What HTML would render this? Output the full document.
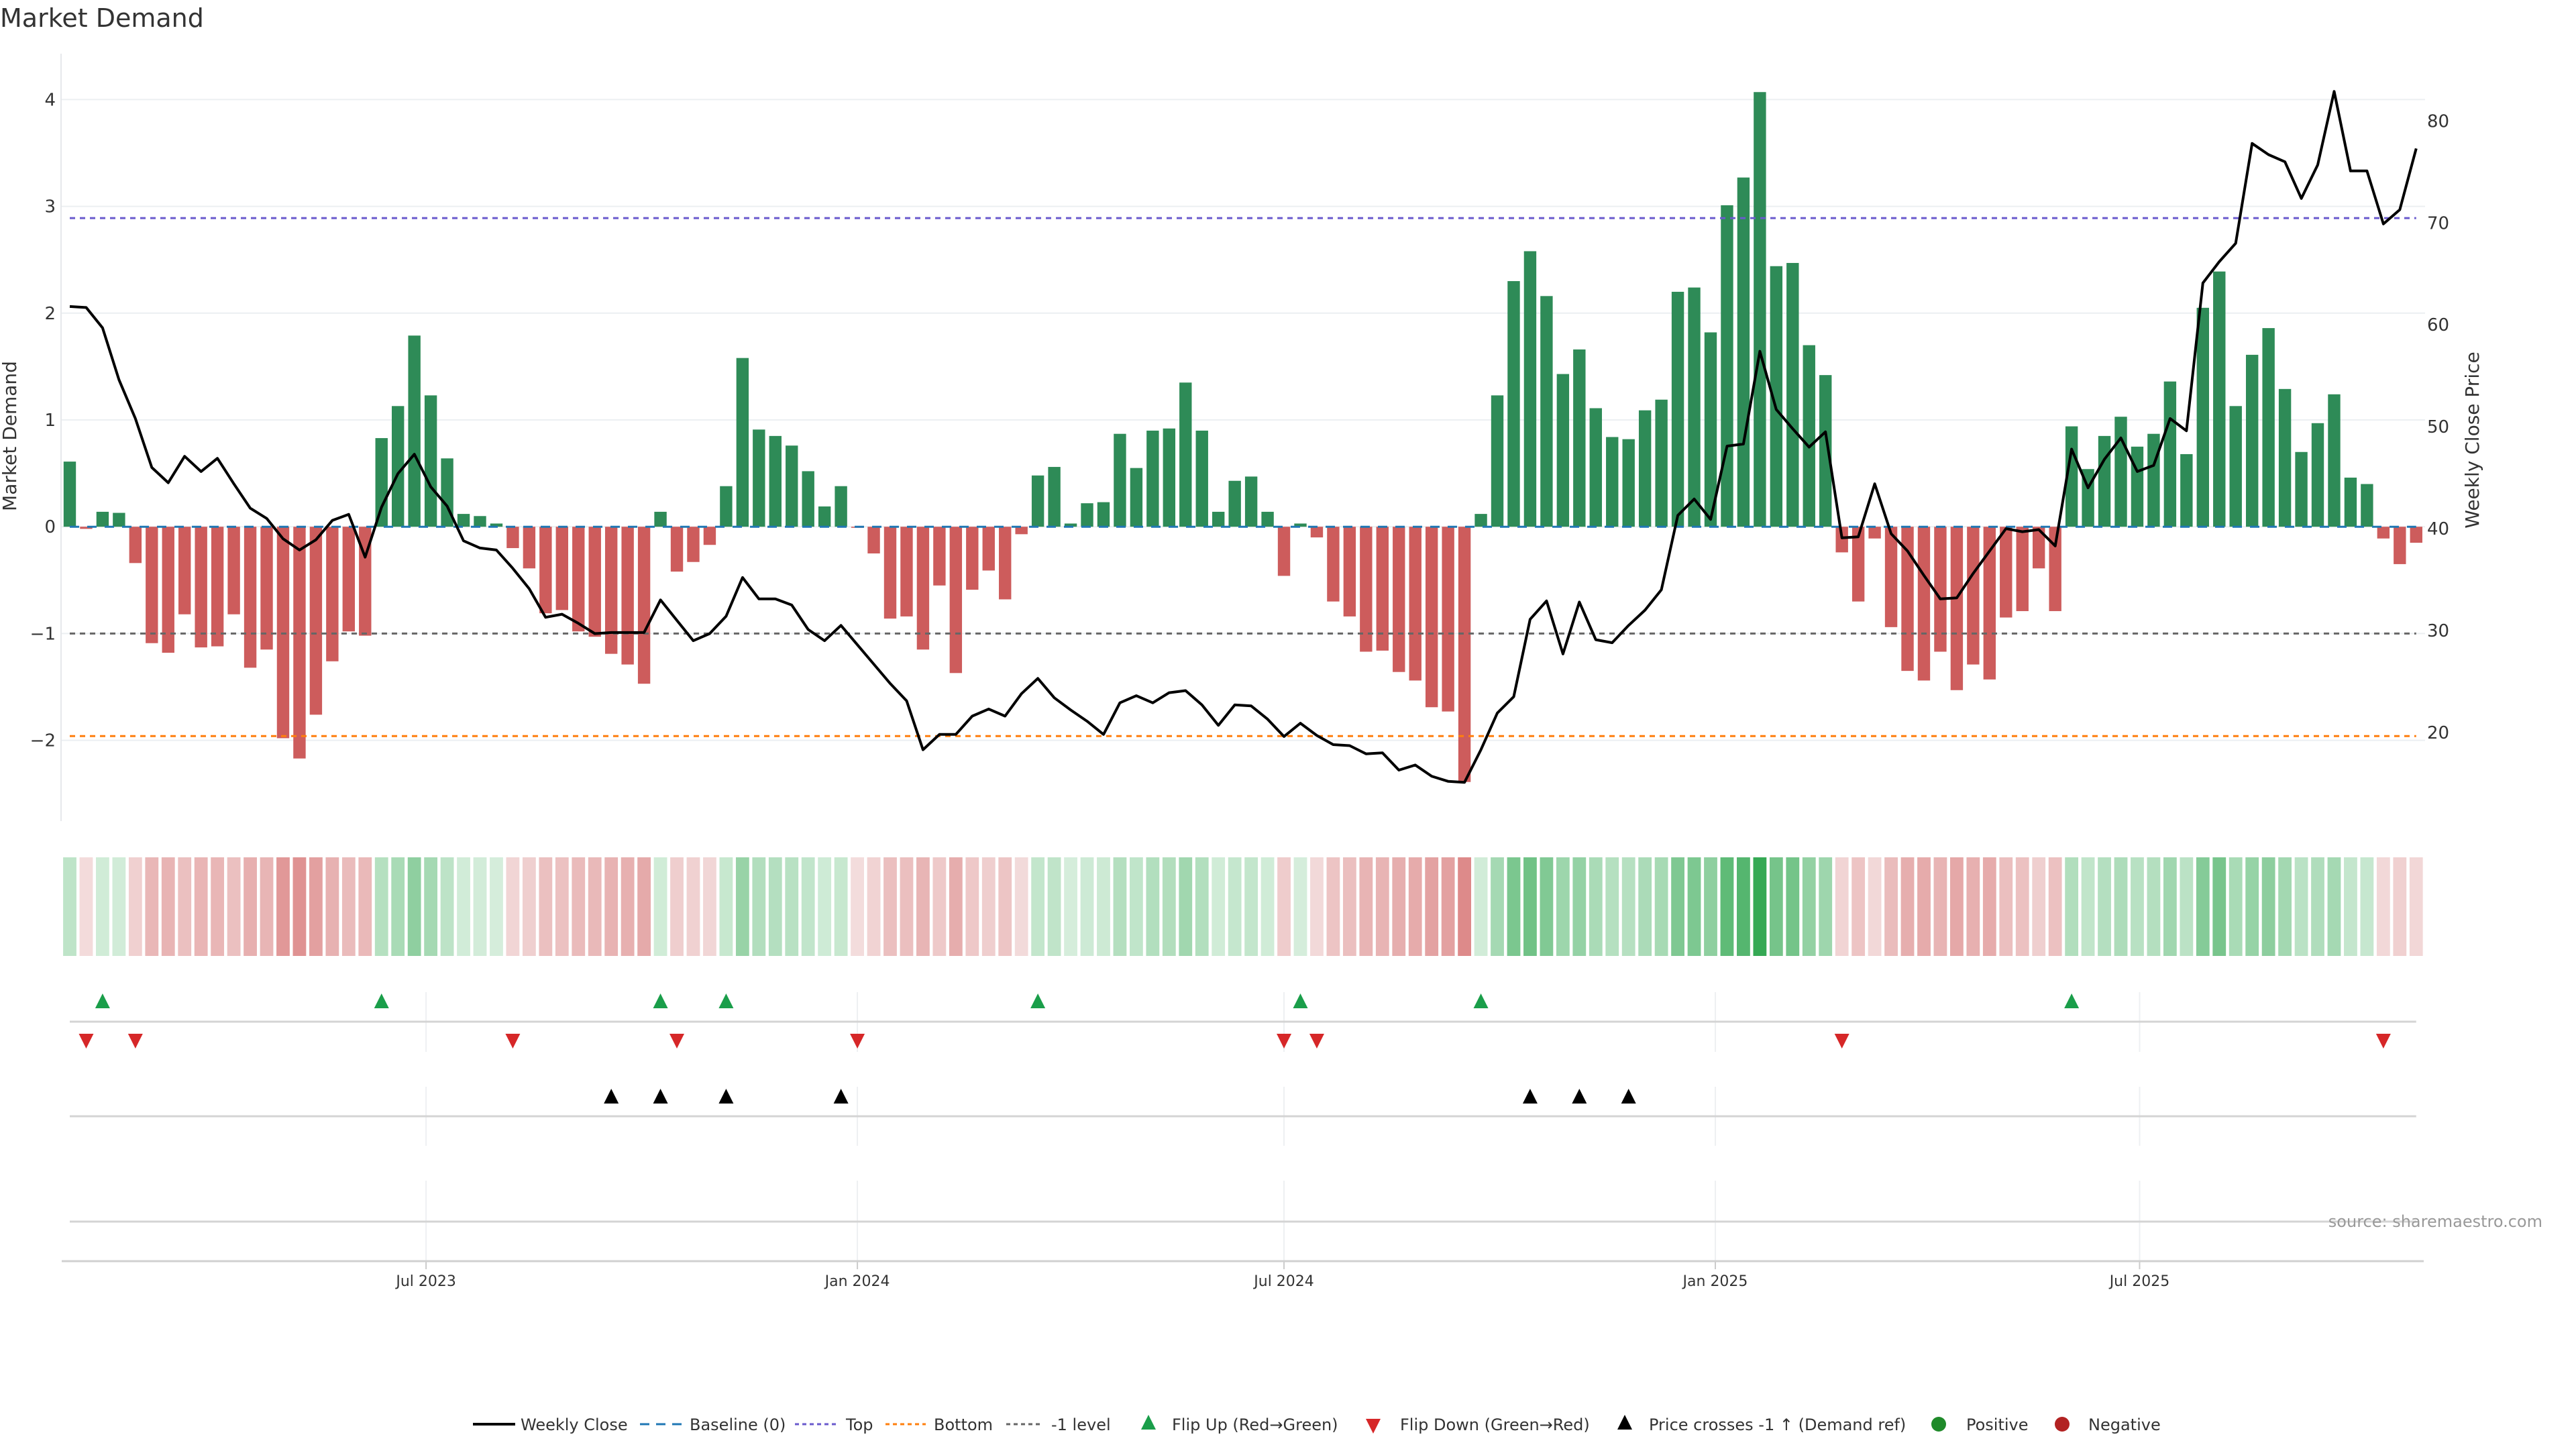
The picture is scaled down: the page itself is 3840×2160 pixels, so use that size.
<!DOCTYPE html>
<html><head><meta charset="utf-8"><title>Market Demand</title>
<style>
html,body{margin:0;padding:0;background:#fff;}
svg{display:block;font-family:"DejaVu Sans","Liberation Sans",sans-serif;}
</style></head>
<body>
<svg id="chart" xmlns="http://www.w3.org/2000/svg" width="3840" height="2160" viewBox="0 0 3840 2160">
<text x="0" y="40" font-size="38" fill="#333">Market Demand</text>
<g id="grid"></g>
<g id="refs"></g>
<g id="bars"></g>
<g id="priceg"></g>
<g id="heat"></g>
<g id="markers"></g>
<g id="axes"></g>
<g id="legend"></g>
<text x="3790" y="1829" font-size="24" fill="#999" text-anchor="end">source: sharemaestro.com</text>
</svg>
<script>
const demand = [0.61,-0.02,0.14,0.13,-0.34,-1.09,-1.18,-0.82,-1.13,-1.12,
-0.82,-1.32,-1.15,-1.98,-2.17,-1.76,-1.26,-0.98,-1.02,0.83,
1.13,1.79,1.23,0.64,0.12,0.10,0.03,-0.20,-0.39,-0.81,
-0.78,-0.98,-1.03,-1.19,-1.29,-1.47,0.14,-0.42,-0.33,-0.17,
0.38,1.58,0.91,0.85,0.76,0.52,0.19,0.38,-0.01,-0.25,
-0.86,-0.84,-1.15,-0.55,-1.37,-0.59,-0.41,-0.68,-0.07,0.48,
0.56,0.03,0.22,0.23,0.87,0.55,0.90,0.92,1.35,0.90,
0.14,0.43,0.47,0.14,-0.46,0.03,-0.10,-0.70,-0.84,-1.17,
-1.16,-1.36,-1.44,-1.69,-1.73,-2.39,0.12,1.23,2.30,2.58,
2.16,1.43,1.66,1.11,0.84,0.82,1.09,1.19,2.20,2.24,
1.82,3.01,3.27,4.07,2.44,2.47,1.70,1.42,-0.24,-0.70,
-0.11,-0.94,-1.35,-1.44,-1.17,-1.53,-1.29,-1.43,-0.85,-0.79,
-0.39,-0.79,0.94,0.54,0.85,1.03,0.75,0.87,1.36,0.68,
2.05,2.39,1.13,1.61,1.86,1.29,0.70,0.97,1.24,0.46,
0.40,-0.11,-0.35,-0.15];
const price = [61.8,61.7,59.7,54.6,50.8,46.0,44.5,47.1,45.6,46.9,
44.4,42.0,41.0,39.0,37.9,38.9,40.8,41.4,37.2,42.1,
45.4,47.3,44.1,42.2,38.8,38.1,37.9,36.1,34.1,31.3,
31.6,30.7,29.7,29.8,29.8,29.8,33.0,31.0,29.0,29.7,
31.4,35.2,33.1,33.1,32.5,30.1,29.0,30.5,28.6,26.7,
24.8,23.1,18.3,19.8,19.8,21.6,22.3,21.6,23.8,25.3,
23.4,22.2,21.1,19.8,22.9,23.6,22.9,23.9,24.1,22.7,
20.7,22.7,22.6,21.3,19.6,20.9,19.7,18.8,18.7,17.9,
18.0,16.3,16.8,15.7,15.2,15.1,18.3,21.9,23.5,31.1,
32.9,27.7,32.8,29.1,28.8,30.5,32.0,34.0,41.3,42.9,
40.9,48.1,48.3,57.4,51.7,49.8,48.0,49.5,39.1,39.2,
44.4,39.5,37.8,35.4,33.1,33.2,35.6,37.8,40.0,39.7,
39.9,38.3,47.8,44.0,46.8,48.9,45.6,46.2,50.8,49.6,
64.1,66.2,68.0,77.8,76.7,76.0,72.4,75.7,82.9,75.1,
75.1,69.9,71.3,77.3];
const flipUp = [2,19,36,40,59,75,86,122];
const flipDown = [1,4,27,37,48,74,76,108,141];
const priceCross = [33,36,40,47,89,92,95];
const demandTicks = [-2,-1,0,1,2,3,4];
const priceTicks = [20,30,40,50,60,70,80];
const refTop = 2.89, refMinus1 = -1, refBottom = -1.96;
const dateTicks = [["Jul 2023","2023-07-01"],["Jan 2024","2024-01-01"],["Jul 2024","2024-07-01"],["Jan 2025","2025-01-01"],["Jul 2025","2025-07-01"]];
const startDate = "2023-01-30";

const NS="http://www.w3.org/2000/svg";
const X0=104, STEP=24.46, BW=18.4;
function xAt(i){return X0+STEP*i;}
function yD(v){return 785.2-v*159.2;}
function yP(p){return 788-(p-40)*15.19;}
function xDate(s){const d=(new Date(s)-new Date(startDate))/86400000;return X0+STEP*d/7;}
function mk(tag,attrs,parent){const e=document.createElementNS(NS,tag);for(const k in attrs)e.setAttribute(k,attrs[k]);parent.appendChild(e);return e;}
const g=id=>document.getElementById(id);
const N=demand.length, XE=xAt(N-1);

demandTicks.forEach(t=>{
  const l=mk('line',{x1:91,x2:3615,y1:yD(t),y2:yD(t),stroke:'#eceff2','stroke-width':2},g('grid'));
  
  
  const tx=mk('text',{x:83,y:yD(t)+9,'font-size':26,fill:'#333','text-anchor':'end'},g('axes'));
  tx.textContent=(t<0?'\u2212':'')+Math.abs(t);
  
  
});
priceTicks.forEach(t=>{
  const tx=mk('text',{x:3618,y:yP(t)+9,'font-size':26,fill:'#333'},g('axes'));
  tx.textContent=t;
  
  
});
const sp=mk('line',{x1:91,x2:91,y1:80,y2:1224,stroke:'#e6e8eb','stroke-width':2},g('axes'));


let yl=mk('text',{x:0,y:0,'font-size':28,fill:'#333','text-anchor':'middle',transform:'translate(24,650) rotate(-90)'},g('axes'));
yl.textContent='Market Demand';


let yr=mk('text',{x:0,y:0,'font-size':28,fill:'#333','text-anchor':'middle',transform:'translate(3695,656) rotate(-90)'},g('axes'));
yr.textContent='Weekly Close Price';



demand.forEach((v,i)=>{
  const y=Math.min(yD(0),yD(v)),h=Math.max(1.5,Math.abs(yD(v)-yD(0)));
  const r=mk('rect',{x:xAt(i)-BW/2,y:y,width:BW,height:h,fill:v>=0?'#2e8b57':'#cd5c5c'},g('bars'));
  
  
});
[[0,'#1f77b4','14 12','baseline-line'],[refTop,'#6a5acd','8 7','top-line'],[refMinus1,'#666','8 7','minus1-line'],[refBottom,'#ff7f0e','8 7','bottom-line']].forEach(a=>{
  const l=mk('line',{x1:X0,x2:XE,y1:yD(a[0]),y2:yD(a[0]),stroke:a[1],'stroke-width':3,'stroke-dasharray':a[2]},g('refs'));
  
  
});
g('refs').parentNode.insertBefore(g('refs'),g('priceg'));
const pts=price.map((p,i)=>xAt(i).toFixed(1)+','+yP(p).toFixed(1)).join(' ');
const pl=mk('polyline',{points:pts,fill:'none',stroke:'#000','stroke-width':4,'stroke-linejoin':'round'},g('priceg'));



const mx=4.1;
demand.forEach((v,i)=>{
  const t=Math.min(1,Math.abs(v)/mx);
  let c;
  if(v>=0){c=[214-162*t,238-70*t,220-137*t];}else{c=[243-38*t,220-140*t,220-140*t];}
  const r=mk('rect',{x:xAt(i)-9.9,y:1278,width:19.8,height:147,fill:'rgb('+c.map(Math.round).join(',')+')'},g('heat'));
  
  
});

dateTicks.forEach(d=>{
  const x=xDate(d[1]);
  [[1479,1568],[1620,1708],[1760,1880]].forEach(s=>{
    const l=mk('line',{x1:x,x2:x,y1:s[0],y2:s[1],stroke:'#eef0f2','stroke-width':2},g('markers'));
    
    
  });
  const tk=mk('line',{x1:x,x2:x,y1:1880,y2:1892,stroke:'#ccc','stroke-width':2},g('axes'));
  
  
  const tx=mk('text',{x:x,y:1917,'font-size':22,fill:'#333','text-anchor':'middle'},g('axes'));
  tx.textContent=d[0];
  
  
});
[1523,1664,1821].forEach(y=>{
  const l=mk('line',{x1:X0,x2:XE,y1:y,y2:y,stroke:'#d4d4d4','stroke-width':3},g('markers'));
  
  
});
const ax=mk('line',{x1:92,x2:3613,y1:1880,y2:1880,stroke:'#d0d0d0','stroke-width':3},g('axes'));


function tri(x,y,up,col,name,parent){
  const p=up?`${x},${y-12} ${x+11},${y+10} ${x-11},${y+10}`:`${x-11},${y-10} ${x+11},${y-10} ${x},${y+12}`;
  const e=mk('polygon',{points:p,fill:col},parent||g('markers'));
  
  
}
flipUp.forEach(i=>tri(xAt(i),1493,true,'#1a9e4a','flip-up-marker'));
flipDown.forEach(i=>tri(xAt(i),1551,false,'#d62728','flip-down-marker'));
priceCross.forEach(i=>tri(xAt(i),1635,true,'#000','price-cross-marker'));

const L=g('legend'), LY=2123;
function ltext(x,s,name){const t=mk('text',{x:x,y:LY+9,'font-size':24,fill:'#333'},L);t.textContent=s;}
function lline(x1,x2,col,dash,w){const l=mk('line',{x1:x1,x2:x2,y1:LY,y2:LY,stroke:col,'stroke-width':w,'stroke-dasharray':dash},L);}
lline(705,768,'#000','none',4);ltext(776,'Weekly Close','legend-weekly-close');
lline(954,1017,'#1f77b4','14 10',3);ltext(1028,'Baseline (0)','legend-baseline');
lline(1185,1249,'#6a5acd','6 5',3);ltext(1261,'Top','legend-top');
lline(1320,1380,'#ff7f0e','6 5',3);ltext(1392,'Bottom','legend-bottom');
lline(1500,1555,'#666','6 5',3);ltext(1567,'-1 level','legend-minus1');
tri(1712,LY-2,true,'#1a9e4a','legend-flip-up-swatch',L);ltext(1747,'Flip Up (Red\u2192Green)','legend-flip-up');
tri(2047,LY+2,false,'#d62728','legend-flip-down-swatch',L);ltext(2087,'Flip Down (Green\u2192Red)','legend-flip-down');
tri(2422,LY-2,true,'#000','legend-price-cross-swatch',L);ltext(2458,'Price crosses -1 \u2191 (Demand ref)','legend-price-cross');
let c1=mk('circle',{cx:2890,cy:LY,r:11,fill:'#1f8a2a'},L);
ltext(2931,'Positive','legend-positive');
let c2=mk('circle',{cx:3074,cy:LY,r:11,fill:'#b22222'},L);
ltext(3113,'Negative','legend-negative');
</script>
</body></html>
